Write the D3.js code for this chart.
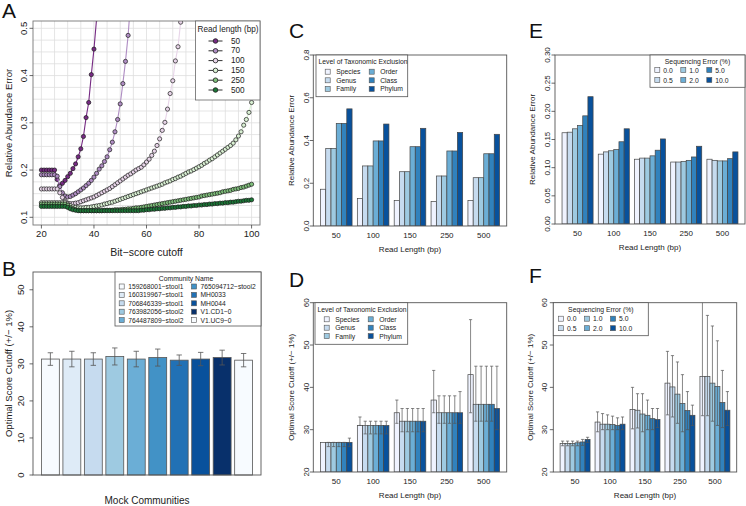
<!DOCTYPE html>
<html>
<head>
<meta charset="utf-8">
<script src="https://cdn.jsdelivr.net/npm/d3@7"></script>
<style>
	body { margin: 0; background: #ffffff; }
	svg { display: block; }
</style>
</head>
<body>
<script>

//****************************************************************************************************************************//
// Data

// Panel A : relative abundance error against bit-score cutoff (cutoffs 20, 21, 22 ...)
var cutoffs = d3.range(20, 101);
var readLengthsA = ["50", "70", "100", "150", "250", "500"];
var errA50 = [0.200,0.200,0.200,0.200,0.200,0.200,0.180,0.168,0.172,0.178,0.186,0.193,0.203,0.213,0.228,0.245,0.271,0.311,0.343,0.402,0.456,0.520,0.600];
var errA70 = [0.190,0.190,0.190,0.190,0.190,0.190,0.187,0.165,0.152,0.145,0.143,0.144,0.147,0.150,0.154,0.158,0.162,0.167,0.172,0.178,0.185,0.193,0.202,0.209,0.218,0.228,0.243,0.259,0.281,0.307,0.340,0.383,0.430,0.485,0.560,0.640];
var errA100 = [0.160,0.160,0.160,0.160,0.160,0.160,0.160,0.152,0.142,0.134,0.130,0.129,0.129,0.130,0.131,0.133,0.135,0.137,0.139,0.141,0.143,0.146,0.149,0.152,0.155,0.158,0.161,0.165,0.169,0.173,0.177,0.181,0.185,0.189,0.192,0.196,0.200,0.203,0.206,0.211,0.217,0.223,0.231,0.240,0.252,0.266,0.284,0.301,0.329,0.362,0.389,0.431,0.461,0.513,0.580];
var errA150 = [0.131,0.131,0.131,0.131,0.131,0.131,0.131,0.131,0.131,0.131,0.128,0.125,0.122,0.121,0.120,0.120,0.120,0.121,0.121,0.122,0.123,0.124,0.125,0.126,0.128,0.129,0.131,0.132,0.134,0.136,0.138,0.140,0.142,0.144,0.146,0.148,0.150,0.152,0.154,0.156,0.158,0.160,0.162,0.164,0.166,0.168,0.170,0.173,0.175,0.177,0.180,0.182,0.185,0.187,0.190,0.193,0.196,0.198,0.201,0.204,0.207,0.210,0.214,0.217,0.221,0.224,0.228,0.232,0.236,0.240,0.244,0.248,0.252,0.257,0.264,0.272,0.281,0.295,0.307,0.322,0.343];
var errA250 = [0.128,0.128,0.128,0.128,0.128,0.128,0.128,0.128,0.128,0.128,0.125,0.121,0.118,0.116,0.115,0.114,0.114,0.114,0.114,0.114,0.114,0.114,0.114,0.114,0.115,0.115,0.115,0.115,0.116,0.116,0.116,0.117,0.117,0.118,0.118,0.119,0.120,0.120,0.121,0.122,0.123,0.124,0.125,0.126,0.127,0.128,0.129,0.130,0.131,0.132,0.133,0.134,0.135,0.136,0.137,0.138,0.139,0.140,0.141,0.142,0.143,0.145,0.146,0.147,0.148,0.149,0.150,0.151,0.152,0.154,0.155,0.156,0.157,0.159,0.160,0.161,0.163,0.164,0.166,0.168,0.170];
var errA500 = [0.123,0.123,0.123,0.123,0.123,0.123,0.123,0.123,0.123,0.123,0.121,0.118,0.116,0.115,0.114,0.114,0.114,0.114,0.114,0.114,0.114,0.114,0.114,0.114,0.114,0.114,0.114,0.114,0.114,0.114,0.114,0.114,0.114,0.114,0.114,0.114,0.114,0.114,0.115,0.115,0.116,0.116,0.117,0.117,0.118,0.118,0.119,0.119,0.120,0.120,0.121,0.121,0.122,0.122,0.123,0.123,0.124,0.124,0.125,0.125,0.126,0.126,0.127,0.127,0.128,0.128,0.129,0.129,0.130,0.130,0.131,0.131,0.132,0.132,0.133,0.134,0.134,0.135,0.136,0.136,0.137];
var colorsA = ["#762a83", "#af8dc3", "#e7d4e8", "#d9f0d3", "#7fbf7b", "#1b7837"];

// Panel B : optimal cutoff per mock community
var communities = ["159268001-stool1", "160319967-stool1", "706846339-stool1", "763982056-stool2", "764487809-stool2",
                   "765094712-stool2", "MH0033", "MH0044", "V1.CD1-0", "V1.UC9-0"];
var cutoffB = [31.3, 31.3, 31.3, 32.0, 31.3, 31.7, 31.0, 31.3, 31.7, 31.0];
var devB = [1.7, 2.1, 1.7, 2.3, 2.1, 2.3, 1.4, 1.8, 2.0, 1.8];
var colorsB = ["#f7fbff", "#deebf7", "#c6dbef", "#9ecae1", "#6baed6", "#4292c6", "#2171b5", "#08519c", "#08306b", "#f7fbff"];

// Panels C - F : shared categories
var readLengths = ["50", "100", "150", "250", "500"];
var taxLevels = ["Species", "Genus", "Family", "Order", "Class", "Phylum"];
var seqErrors = ["0.0", "0.5", "1.0", "2.0", "5.0", "10.0"];
var blues6 = ["#eff3ff", "#c6dbef", "#9ecae1", "#6baed6", "#3182bd", "#08519c"];

// Panel C : relative abundance error by level of taxonomic exclusion   [level][read length]
var errC = [
	[0.172, 0.129, 0.120, 0.114, 0.120],
	[0.363, 0.281, 0.254, 0.234, 0.226],
	[0.363, 0.281, 0.254, 0.234, 0.226],
	[0.480, 0.398, 0.371, 0.351, 0.338],
	[0.480, 0.398, 0.371, 0.351, 0.338],
	[0.548, 0.477, 0.457, 0.438, 0.429]
];

// Panel D : optimal cutoff by level of taxonomic exclusion   [level][read length]
var cutD = [
	[27, 31, 34, 37, 43],
	[27, 31, 32, 34, 36],
	[27, 31, 32, 34, 36],
	[27, 31, 32, 34, 36],
	[27, 31, 32, 34, 36],
	[27, 31, 32, 34, 35]
];
var loD = [
	[27, 31, 31.5, 34, 34],
	[26, 29, 29.5, 31.5, 32],
	[26, 29, 29.5, 31.5, 32],
	[26, 29, 29.5, 31.5, 32],
	[26, 29, 29.5, 31.5, 32],
	[26, 29, 29.5, 31.5, 30]
];
var hiD = [
	[27, 33, 37, 44, 56],
	[27, 32, 35, 38, 45],
	[27, 32, 35, 38, 45],
	[27, 32, 35, 38, 45],
	[27, 32, 35, 38, 45],
	[28, 32, 35, 39, 45]
];

// Panel E : relative abundance error by sequencing error   [error][read length]
var errE = [
	[0.162, 0.124, 0.115, 0.110, 0.115],
	[0.163, 0.128, 0.117, 0.110, 0.113],
	[0.169, 0.130, 0.117, 0.111, 0.112],
	[0.175, 0.132, 0.121, 0.113, 0.112],
	[0.192, 0.146, 0.131, 0.119, 0.116],
	[0.226, 0.169, 0.151, 0.138, 0.128]
];

// Panel F : optimal cutoff by sequencing error   [error][read length]
var cutF = [
	[26.7, 31.8, 34.8, 41.0, 42.6],
	[26.7, 31.3, 34.6, 40.1, 42.6],
	[26.7, 31.3, 33.7, 38.4, 41.0],
	[26.9, 31.2, 33.4, 36.2, 40.2],
	[27.1, 31.0, 32.6, 34.5, 36.4],
	[27.7, 31.3, 32.4, 33.4, 34.6]
];
var loF = [
	[26.2, 29.5, 30.2, 33.5, 33.3],
	[26.2, 30.0, 30.4, 33.0, 33.3],
	[26.2, 30.0, 29.5, 31.5, 32.0],
	[26.2, 30.0, 30.0, 29.5, 31.0],
	[26.3, 30.0, 30.0, 30.0, 30.5],
	[27.0, 30.0, 30.5, 31.0, 31.0]
];
var hiF = [
	[27.3, 34.2, 40.0, 48.5, 62.0],
	[27.3, 33.8, 38.5, 47.5, 57.0],
	[27.3, 33.5, 38.5, 46.0, 54.5],
	[27.3, 33.2, 37.0, 43.0, 51.0],
	[27.7, 32.8, 35.0, 39.0, 44.0],
	[28.2, 33.0, 35.0, 35.8, 39.0]
];

//****************************************************************************************************************************//
// Canvas

var width = 746, height = 506;
var fontFamily = "'Liberation Sans', Arial, Helvetica, sans-serif";

var canvas = d3.select("body").append("svg")
				.attr("width", width)
				.attr("height", height)
				.style("font-family", fontFamily);

canvas.append("rect").attr("width", width).attr("height", height).attr("fill", "white");

var defs = canvas.append("defs");
var clipCount = 0;

function addClip(box){
	var id = "clip" + (clipCount++);
	defs.append("clipPath").attr("id", id)
		.append("rect")
		.attr("x", box.left).attr("y", box.top)
		.attr("width", box.right - box.left).attr("height", box.bottom - box.top);
	return "url(#" + id + ")";
}

function panelLetter(letter, x, y){
	canvas.append("text")
		.attr("x", x).attr("y", y)
		.style("font-size", "21px")
		.attr("fill", "#111")
		.text(letter);
}

function vText(x, y, size, txt){
	canvas.append("text")
		.attr("transform", "translate(" + x + "," + y + ") rotate(-90)")
		.attr("text-anchor", "middle")
		.attr("dominant-baseline", "central")
		.style("font-size", size + "px")
		.attr("fill", "#222")
		.text(txt);
}

function hText(x, y, size, txt, anchor){
	canvas.append("text")
		.attr("x", x).attr("y", y)
		.attr("text-anchor", anchor || "middle")
		.attr("dominant-baseline", "central")
		.style("font-size", size + "px")
		.attr("fill", "#222")
		.text(txt);
}

function yAxisLeft(box, scale, ticks, fmt, size, labelOffset){
	ticks.forEach(function(t){
		canvas.append("line")
			.attr("x1", box.left - 3.5).attr("x2", box.left)
			.attr("y1", scale(t)).attr("y2", scale(t))
			.attr("stroke", "#444").attr("stroke-width", 0.8);
		vText(box.left - labelOffset, scale(t), size, fmt(t));
	});
}

//****************************************************************************************************************************//
// Panel A

var boxA = {left : 33, right : 260, top : 21, bottom : 225};
var xA = d3.scaleLinear().domain([16.8, 103.2]).range([boxA.left, boxA.right]);
var yA = d3.scaleLinear().domain([0.0837, 0.5155]).range([boxA.bottom, boxA.top]);

var paneA = canvas.append("g");

d3.range(20, 101, 5).forEach(function(v){
	paneA.append("line")
		.attr("x1", xA(v)).attr("x2", xA(v))
		.attr("y1", boxA.top).attr("y2", boxA.bottom)
		.attr("stroke", "#dedede").attr("stroke-width", 0.8);
});
d3.range(0, 17).forEach(function(i){
	var v = 0.1 + i*0.025;
	paneA.append("line")
		.attr("x1", boxA.left).attr("x2", boxA.right)
		.attr("y1", yA(v)).attr("y2", yA(v))
		.attr("stroke", "#dedede").attr("stroke-width", 0.8);
});

var seriesA = [errA50, errA70, errA100, errA150, errA250, errA500];
var clipA = addClip(boxA);
var plotA = paneA.append("g").attr("clip-path", clipA);
var lineA = d3.line().x(function(d){ return xA(d.x); }).y(function(d){ return yA(d.y); });

seriesA.forEach(function(vals, s){
	var pts = vals.map(function(v, i){ return {x : cutoffs[i], y : v}; });
	plotA.append("path")
		.attr("d", lineA(pts))
		.attr("fill", "none")
		.attr("stroke", colorsA[s])
		.attr("stroke-width", 1.1);
	plotA.selectAll(null).data(pts).enter().append("circle")
		.attr("cx", function(d){ return xA(d.x); })
		.attr("cy", function(d){ return yA(d.y); })
		.attr("r", 2.1)
		.attr("fill", colorsA[s])
		.attr("stroke", "#1a1a1a")
		.attr("stroke-width", 0.7);
});

paneA.append("rect")
	.attr("x", boxA.left).attr("y", boxA.top)
	.attr("width", boxA.right - boxA.left).attr("height", boxA.bottom - boxA.top)
	.attr("fill", "none").attr("stroke", "#777").attr("stroke-width", 0.9);

[20, 40, 60, 80, 100].forEach(function(t){
	paneA.append("line")
		.attr("x1", xA(t)).attr("x2", xA(t))
		.attr("y1", boxA.bottom).attr("y2", boxA.bottom + 3.5)
		.attr("stroke", "#444").attr("stroke-width", 0.8);
	hText(xA(t), 233, 9.5, t);
});
yAxisLeft(boxA, yA, [0.1, 0.2, 0.3, 0.4, 0.5], d3.format(".1f"), 9.5, 10);

hText((boxA.left + boxA.right)/2, 252, 10.5, "Bit\u2212score cutoff");
vText(8, (boxA.top + boxA.bottom)/2, 9.5, "Relative Abundance Error");

// legend A
paneA.append("rect")
	.attr("x", 195.5).attr("y", boxA.top)
	.attr("width", boxA.right - 195.5).attr("height", 79)
	.attr("fill", "white").attr("stroke", "#666").attr("stroke-width", 0.8);
hText(197.5, 29, 8.2, "Read length (bp)", "start");
readLengthsA.forEach(function(lab, i){
	var yy = 41 + i*9.8;
	paneA.append("line")
		.attr("x1", 208.5).attr("x2", 222.5).attr("y1", yy).attr("y2", yy)
		.attr("stroke", "#333").attr("stroke-width", 1);
	paneA.append("circle")
		.attr("cx", 215.5).attr("cy", yy).attr("r", 2.3)
		.attr("fill", colorsA[i]).attr("stroke", "#1a1a1a").attr("stroke-width", 0.8);
	hText(231, yy, 8.2, lab, "start");
});

panelLetter("A", 2, 18);

//****************************************************************************************************************************//
// Panel B

var boxB = {left : 33, right : 261, top : 272, bottom : 475};
var xB = d3.scaleLinear().domain([-0.272, 12.472]).range([boxB.left, boxB.right]);
var yB = d3.scaleLinear().domain([0, 54.8]).range([boxB.bottom, boxB.top]);

var paneB = canvas.append("g");
communities.forEach(function(c, i){
	var x0 = 0.2 + i*1.2;
	paneB.append("rect")
		.attr("x", xB(x0)).attr("y", yB(cutoffB[i]))
		.attr("width", xB(x0 + 1) - xB(x0))
		.attr("height", yB(0) - yB(cutoffB[i]))
		.attr("fill", colorsB[i]).attr("stroke", "#555").attr("stroke-width", 0.8);
});
communities.forEach(function(c, i){
	var xc = xB(0.7 + i*1.2);
	var y1 = yB(cutoffB[i] + devB[i]), y2 = yB(cutoffB[i] - devB[i]);
	paneB.append("line").attr("x1", xc).attr("x2", xc).attr("y1", y1).attr("y2", y2)
		.attr("stroke", "#555").attr("stroke-width", 0.8);
	[y1, y2].forEach(function(yy){
		paneB.append("line").attr("x1", xc - 2.7).attr("x2", xc + 2.7).attr("y1", yy).attr("y2", yy)
			.attr("stroke", "#555").attr("stroke-width", 0.8);
	});
});
paneB.append("rect")
	.attr("x", boxB.left).attr("y", boxB.top)
	.attr("width", boxB.right - boxB.left).attr("height", boxB.bottom - boxB.top)
	.attr("fill", "none").attr("stroke", "#555").attr("stroke-width", 0.9);
yAxisLeft(boxB, yB, [0, 10, 20, 30, 40, 50], d3.format("d"), 9.5, 13);
hText(147, 500, 10, "Mock Communities");
vText(8, (boxB.top + boxB.bottom)/2, 9.5, "Optimal Score Cutoff (+/\u2212 1%)");

// legend B
paneB.append("rect")
	.attr("x", 115).attr("y", boxB.top)
	.attr("width", boxB.right - 115).attr("height", 54)
	.attr("fill", "white").attr("stroke", "#555").attr("stroke-width", 0.8);
hText(186, 278, 6.8, "Community Name");
communities.forEach(function(c, i){
	var col = Math.floor(i/5), row = i % 5;
	var sx = col === 0 ? 121.7 : 194, yy = 286.5 + row*8.4;
	paneB.append("rect")
		.attr("x", sx - 2.5).attr("y", yy - 2.5).attr("width", 5).attr("height", 5)
		.attr("fill", colorsB[i]).attr("stroke", "#555").attr("stroke-width", 0.6);
	hText(sx + 6.5, yy, 6.7, c.replace("-", "\u2212"), "start");
});

panelLetter("B", 2, 276);

//****************************************************************************************************************************//
// Grouped bar panels C - F

function groupedBars(cfg){
	var box = cfg.box;
	var nS = cfg.series.length;
	var x = d3.scaleLinear().domain([-0.36, 36.36]).range([box.left, box.right]);
	var y = d3.scaleLinear().domain(cfg.yDomain).range([box.bottom, box.top]);
	var pane = canvas.append("g");
	var plot = pane.append("g").attr("clip-path", addClip(box));

	cfg.values.forEach(function(vals, s){
		vals.forEach(function(v, g){
			var x0 = 1 + g*(nS + 1) + s;
			plot.append("rect")
				.attr("x", x(x0)).attr("y", y(v))
				.attr("width", x(x0 + 1) - x(x0))
				.attr("height", y(cfg.yDomain[0]) - y(v))
				.attr("fill", cfg.colors[s]).attr("stroke", "#444").attr("stroke-width", 0.7);
		});
	});

	if (cfg.lo){
		cfg.values.forEach(function(vals, s){
			vals.forEach(function(v, g){
				var lo = cfg.lo[s][g], hi = cfg.hi[s][g];
				if (hi - lo < 0.01) return;
				var xc = x(1.5 + g*(nS + 1) + s);
				plot.append("line").attr("x1", xc).attr("x2", xc).attr("y1", y(hi)).attr("y2", y(lo))
					.attr("stroke", "#555").attr("stroke-width", 0.7);
				[lo, hi].forEach(function(e){
					plot.append("line").attr("x1", xc - 1.6).attr("x2", xc + 1.6).attr("y1", y(e)).attr("y2", y(e))
						.attr("stroke", "#555").attr("stroke-width", 0.7);
				});
			});
		});
	}

	pane.append("rect")
		.attr("x", box.left).attr("y", box.top)
		.attr("width", box.right - box.left).attr("height", box.bottom - box.top)
		.attr("fill", "none").attr("stroke", "#555").attr("stroke-width", 0.9);

	yAxisLeft(box, y, cfg.yTicks, cfg.yFormat, 8, cfg.tickOffset);
	cfg.groups.forEach(function(lab, g){
		hText(x(1 + g*(nS + 1) + nS/2), box.bottom + 9.5, 8, lab);
	});
	hText((box.left + box.right)/2, box.bottom + 23, 8, "Read Length (bp)");
	vText(box.left - cfg.titleOffset, (box.top + box.bottom)/2, 8, cfg.yTitle);

	// legend
	var lg = cfg.legend;
	pane.append("rect")
		.attr("x", lg.x).attr("y", box.top)
		.attr("width", lg.w).attr("height", lg.h)
		.attr("fill", "white").attr("stroke", "#555").attr("stroke-width", 0.8);
	if (lg.titleCentered) hText(lg.x + lg.w/2, box.top + 6.5, 6.8, lg.title);
	else hText(lg.x + 2.5, box.top + 6.5, 6.8, lg.title, "start");
	cfg.series.forEach(function(lab, s){
		var col = Math.floor(s/lg.nrow), row = s % lg.nrow;
		var sx = lg.colX[col], yy = box.top + lg.row0 + row*lg.rowH;
		pane.append("rect")
			.attr("x", sx - 2.5).attr("y", yy - 2.5).attr("width", 5).attr("height", 5)
			.attr("fill", cfg.colors[s]).attr("stroke", "#555").attr("stroke-width", 0.6);
		hText(sx + lg.textGap, yy, 6.8, lab, "start");
	});
}

// Panel C
groupedBars({
	box : {left : 313.3, right : 506.7, top : 55, bottom : 226},
	yDomain : [0, 0.8], yTicks : [0, 0.2, 0.4, 0.6, 0.8], yFormat : d3.format(".1f"),
	tickOffset : 7, titleOffset : 21.5,
	groups : readLengths, series : taxLevels, values : errC, colors : blues6,
	yTitle : "Relative Abundance Error",
	legend : {x : 316, w : 91.7, h : 41.7, title : "Level of Taxonomic Exclusion", nrow : 3,
	          colX : [327.7, 371.7], row0 : 16.7, rowH : 8.6, textGap : 8.5}
});
panelLetter("C", 289, 38);

// Panel D
groupedBars({
	box : {left : 313.3, right : 506.7, top : 302.7, bottom : 472},
	yDomain : [20, 60], yTicks : [20, 30, 40, 50, 60], yFormat : d3.format("d"),
	tickOffset : 7, titleOffset : 21.5,
	groups : readLengths, series : taxLevels, values : cutD, lo : loD, hi : hiD, colors : blues6,
	yTitle : "Optimal Score Cutoff (+/\u2212 1%)",
	legend : {x : 315, w : 92.7, h : 41.6, title : "Level of Taxonomic Exclusion", nrow : 3,
	          colX : [326.7, 370.7], row0 : 16.6, rowH : 8.4, textGap : 8.5}
});
panelLetter("D", 289, 287);

// Panel E
groupedBars({
	box : {left : 555, right : 745, top : 55, bottom : 224},
	yDomain : [0, 0.3], yTicks : [0, 0.05, 0.1, 0.15, 0.2, 0.25, 0.3], yFormat : d3.format(".2f"),
	tickOffset : 8, titleOffset : 23,
	groups : readLengths, series : seqErrors, values : errE, colors : blues6,
	yTitle : "Relative Abundance Error",
	legend : {x : 650, w : 95, h : 32.3, title : "Sequencing Error (%)", titleCentered : true, nrow : 2,
	          colX : [657.3, 683.3, 709.3], row0 : 15, rowH : 10, textGap : 6}
});
panelLetter("E", 529, 38);

// Panel F
groupedBars({
	box : {left : 553.3, right : 736.7, top : 302.7, bottom : 472},
	yDomain : [20, 60], yTicks : [20, 30, 40, 50, 60], yFormat : d3.format("d"),
	tickOffset : 9, titleOffset : 23,
	groups : readLengths, series : seqErrors, values : cutF, lo : loF, hi : hiF, colors : blues6,
	yTitle : "Optimal Score Cutoff (+/\u2212 1%)",
	legend : {x : 553.3, w : 95, h : 33, title : "Sequencing Error (%)", titleCentered : true, nrow : 2,
	          colX : [561, 587, 613], row0 : 16, rowH : 9.5, textGap : 6}
});
panelLetter("F", 529, 283);

</script>
</body>
</html>
